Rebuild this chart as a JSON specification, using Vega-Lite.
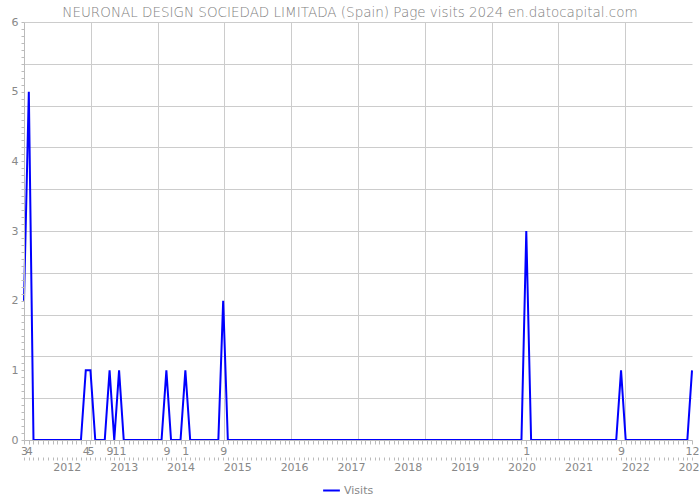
{
  "$schema": "https://vega.github.io/schema/vega-lite/v6.json",
  "width": 668,
  "height": 418,
  "autosize": {"type": "none"},
  "padding": {"left": 24, "top": 22, "right": 8, "bottom": 60},
  "title": {"text": "NEURONAL DESIGN SOCIEDAD LIMITADA (Spain) Page visits 2024 en.datocapital.com", "font": "DejaVu Sans", "fontSize": 13.5, "fontWeight": 300, "color": "#808080", "offset": -3, "dx": -8},
  "config": {
    "view": {"stroke": null},
    "axis": {"labelFont": "DejaVu Sans", "labelFontSize": 11, "labelColor": "#888888", "domainColor": "#bbbbbb", "tickColor": "#bbbbbb", "title": null, "labelFlush": false, "labelOverlap": false, "labelBound": false},
    "legend": {"labelFont": "DejaVu Sans", "labelFontSize": 11, "labelColor": "#888888"}
  },
  "data": {"values": [
    {"date": "2011-03-01", "visits": 2}, {"date": "2011-04-01", "visits": 5}, {"date": "2011-05-01", "visits": 0}, {"date": "2011-06-01", "visits": 0}, {"date": "2011-07-01", "visits": 0}, {"date": "2011-08-01", "visits": 0}, {"date": "2011-09-01", "visits": 0}, {"date": "2011-10-01", "visits": 0}, {"date": "2011-11-01", "visits": 0}, {"date": "2011-12-01", "visits": 0},
    {"date": "2012-01-01", "visits": 0}, {"date": "2012-02-01", "visits": 0}, {"date": "2012-03-01", "visits": 0}, {"date": "2012-04-01", "visits": 1}, {"date": "2012-05-01", "visits": 1}, {"date": "2012-06-01", "visits": 0}, {"date": "2012-07-01", "visits": 0}, {"date": "2012-08-01", "visits": 0}, {"date": "2012-09-01", "visits": 1}, {"date": "2012-10-01", "visits": 0}, {"date": "2012-11-01", "visits": 1}, {"date": "2012-12-01", "visits": 0},
    {"date": "2013-01-01", "visits": 0}, {"date": "2013-02-01", "visits": 0}, {"date": "2013-03-01", "visits": 0}, {"date": "2013-04-01", "visits": 0}, {"date": "2013-05-01", "visits": 0}, {"date": "2013-06-01", "visits": 0}, {"date": "2013-07-01", "visits": 0}, {"date": "2013-08-01", "visits": 0}, {"date": "2013-09-01", "visits": 1}, {"date": "2013-10-01", "visits": 0}, {"date": "2013-11-01", "visits": 0}, {"date": "2013-12-01", "visits": 0},
    {"date": "2014-01-01", "visits": 1}, {"date": "2014-02-01", "visits": 0}, {"date": "2014-03-01", "visits": 0}, {"date": "2014-04-01", "visits": 0}, {"date": "2014-05-01", "visits": 0}, {"date": "2014-06-01", "visits": 0}, {"date": "2014-07-01", "visits": 0}, {"date": "2014-08-01", "visits": 0}, {"date": "2014-09-01", "visits": 2}, {"date": "2014-10-01", "visits": 0}, {"date": "2014-11-01", "visits": 0}, {"date": "2014-12-01", "visits": 0},
    {"date": "2015-01-01", "visits": 0}, {"date": "2015-02-01", "visits": 0}, {"date": "2015-03-01", "visits": 0}, {"date": "2015-04-01", "visits": 0}, {"date": "2015-05-01", "visits": 0}, {"date": "2015-06-01", "visits": 0}, {"date": "2015-07-01", "visits": 0}, {"date": "2015-08-01", "visits": 0}, {"date": "2015-09-01", "visits": 0}, {"date": "2015-10-01", "visits": 0}, {"date": "2015-11-01", "visits": 0}, {"date": "2015-12-01", "visits": 0},
    {"date": "2016-01-01", "visits": 0}, {"date": "2016-02-01", "visits": 0}, {"date": "2016-03-01", "visits": 0}, {"date": "2016-04-01", "visits": 0}, {"date": "2016-05-01", "visits": 0}, {"date": "2016-06-01", "visits": 0}, {"date": "2016-07-01", "visits": 0}, {"date": "2016-08-01", "visits": 0}, {"date": "2016-09-01", "visits": 0}, {"date": "2016-10-01", "visits": 0}, {"date": "2016-11-01", "visits": 0}, {"date": "2016-12-01", "visits": 0},
    {"date": "2017-01-01", "visits": 0}, {"date": "2017-02-01", "visits": 0}, {"date": "2017-03-01", "visits": 0}, {"date": "2017-04-01", "visits": 0}, {"date": "2017-05-01", "visits": 0}, {"date": "2017-06-01", "visits": 0}, {"date": "2017-07-01", "visits": 0}, {"date": "2017-08-01", "visits": 0}, {"date": "2017-09-01", "visits": 0}, {"date": "2017-10-01", "visits": 0}, {"date": "2017-11-01", "visits": 0}, {"date": "2017-12-01", "visits": 0},
    {"date": "2018-01-01", "visits": 0}, {"date": "2018-02-01", "visits": 0}, {"date": "2018-03-01", "visits": 0}, {"date": "2018-04-01", "visits": 0}, {"date": "2018-05-01", "visits": 0}, {"date": "2018-06-01", "visits": 0}, {"date": "2018-07-01", "visits": 0}, {"date": "2018-08-01", "visits": 0}, {"date": "2018-09-01", "visits": 0}, {"date": "2018-10-01", "visits": 0}, {"date": "2018-11-01", "visits": 0}, {"date": "2018-12-01", "visits": 0},
    {"date": "2019-01-01", "visits": 0}, {"date": "2019-02-01", "visits": 0}, {"date": "2019-03-01", "visits": 0}, {"date": "2019-04-01", "visits": 0}, {"date": "2019-05-01", "visits": 0}, {"date": "2019-06-01", "visits": 0}, {"date": "2019-07-01", "visits": 0}, {"date": "2019-08-01", "visits": 0}, {"date": "2019-09-01", "visits": 0}, {"date": "2019-10-01", "visits": 0}, {"date": "2019-11-01", "visits": 0}, {"date": "2019-12-01", "visits": 0},
    {"date": "2020-01-01", "visits": 3}, {"date": "2020-02-01", "visits": 0}, {"date": "2020-03-01", "visits": 0}, {"date": "2020-04-01", "visits": 0}, {"date": "2020-05-01", "visits": 0}, {"date": "2020-06-01", "visits": 0}, {"date": "2020-07-01", "visits": 0}, {"date": "2020-08-01", "visits": 0}, {"date": "2020-09-01", "visits": 0}, {"date": "2020-10-01", "visits": 0}, {"date": "2020-11-01", "visits": 0}, {"date": "2020-12-01", "visits": 0},
    {"date": "2021-01-01", "visits": 0}, {"date": "2021-02-01", "visits": 0}, {"date": "2021-03-01", "visits": 0}, {"date": "2021-04-01", "visits": 0}, {"date": "2021-05-01", "visits": 0}, {"date": "2021-06-01", "visits": 0}, {"date": "2021-07-01", "visits": 0}, {"date": "2021-08-01", "visits": 0}, {"date": "2021-09-01", "visits": 1}, {"date": "2021-10-01", "visits": 0}, {"date": "2021-11-01", "visits": 0}, {"date": "2021-12-01", "visits": 0},
    {"date": "2022-01-01", "visits": 0}, {"date": "2022-02-01", "visits": 0}, {"date": "2022-03-01", "visits": 0}, {"date": "2022-04-01", "visits": 0}, {"date": "2022-05-01", "visits": 0}, {"date": "2022-06-01", "visits": 0}, {"date": "2022-07-01", "visits": 0}, {"date": "2022-08-01", "visits": 0}, {"date": "2022-09-01", "visits": 0}, {"date": "2022-10-01", "visits": 0}, {"date": "2022-11-01", "visits": 0}, {"date": "2022-12-01", "visits": 1}
  ]},
  "layer": [
    {
      "mark": {"type": "line", "opacity": 0},
      "encoding": {
        "x": {"field": "date", "type": "temporal", "scale": {"type": "utc"}, "axis": {"orient": "bottom", "domain": false, "ticks": false, "labels": false, "grid": true, "gridColor": "#cccccc", "gridWidth": 1, "zindex": 0,
          "values": [
            {"year": 2012, "month": 5, "date": 3, "hours": 7, "minutes": 12, "utc": true},
            {"year": 2013, "month": 7, "date": 6, "hours": 14, "minutes": 24, "utc": true},
            {"year": 2014, "month": 9, "date": 8, "hours": 21, "minutes": 36, "utc": true},
            {"year": 2015, "month": 11, "date": 12, "hours": 4, "minutes": 48, "utc": true},
            {"year": 2017, "month": 1, "date": 14, "hours": 12, "utc": true},
            {"year": 2018, "month": 3, "date": 19, "hours": 19, "minutes": 12, "utc": true},
            {"year": 2019, "month": 5, "date": 23, "hours": 2, "minutes": 24, "utc": true},
            {"year": 2020, "month": 7, "date": 25, "hours": 9, "minutes": 36, "utc": true},
            {"year": 2021, "month": 9, "date": 27, "hours": 16, "minutes": 48, "utc": true}
          ]}},
        "y": {"field": "visits", "type": "quantitative", "scale": {"domain": [0, 6], "nice": false}, "axis": {"orient": "left", "domain": false, "ticks": false, "labels": false, "grid": true, "gridColor": "#cccccc", "gridWidth": 1, "zindex": 0,
          "values": [0.6, 1.2, 1.8, 2.4, 3, 3.6, 4.2, 4.8, 5.4, 6]}}
      }
    },
    {
      "mark": {"type": "line", "strokeWidth": 2},
      "encoding": {
        "x": {"field": "date", "type": "temporal", "scale": {"type": "utc"}, "axis": {"orient": "bottom", "grid": false, "domain": true, "ticks": true, "tickSize": 4, "labelPadding": 1, "zindex": 1,
          "tickCount": {"interval": "month", "step": 1},
          "labelExpr": "indexof(['2011-03','2011-04','2012-04','2012-05','2012-09','2012-11','2013-09','2014-01','2014-09','2020-01','2021-09','2022-12'], utcFormat(datum.value, '%Y-%m')) >= 0 ? '' + (utcmonth(datum.value) + 1) : ''"}},
        "y": {"field": "visits", "type": "quantitative", "scale": {"domain": [0, 6], "nice": false}, "axis": {"orient": "left", "grid": false, "domain": true, "ticks": true, "tickSize": 3, "labelPadding": 3, "zindex": 1,
          "values": [0, 0.1, 0.2, 0.3, 0.4, 0.5, 0.6, 0.7, 0.8, 0.9, 1, 1.1, 1.2, 1.3, 1.4, 1.5, 1.6, 1.7, 1.8, 1.9, 2, 2.1, 2.2, 2.3, 2.4, 2.5, 2.6, 2.7, 2.8, 2.9, 3, 3.1, 3.2, 3.3, 3.4, 3.5, 3.6, 3.7, 3.8, 3.9, 4, 4.1, 4.2, 4.3, 4.4, 4.5, 4.6, 4.7, 4.8, 4.9, 5, 5.1, 5.2, 5.3, 5.4, 5.5, 5.6, 5.7, 5.8, 5.9, 6],
          "labelExpr": "abs(datum.value - round(datum.value)) < 0.001 ? format(datum.value, 'd') : ''"}},
        "color": {"datum": "Visits", "scale": {"range": ["#0000ff"]}, "legend": {"title": null, "orient": "none", "legendX": 298, "legendY": 459, "symbolSize": 280, "symbolStrokeWidth": 2, "labelOffset": 3}}
      }
    },
    {
      "mark": {"type": "line", "opacity": 0},
      "encoding": {
        "x": {"field": "date", "type": "temporal", "scale": {"type": "utc"}, "axis": {"orient": "bottom", "grid": false, "domain": false, "ticks": true, "tickSize": 3, "offset": 17, "labelPadding": 1, "zindex": 1,
          "tickCount": {"interval": "month", "step": 1},
          "labelExpr": "utcmonth(datum.value) == 11 ? '' + (utcyear(datum.value) + 1) : ''"}},
        "y": {"field": "visits", "type": "quantitative", "scale": {"domain": [0, 6], "nice": false}, "axis": null}
      }
    }
  ],
  "resolve": {"axis": {"x": "independent", "y": "independent"}}
}
